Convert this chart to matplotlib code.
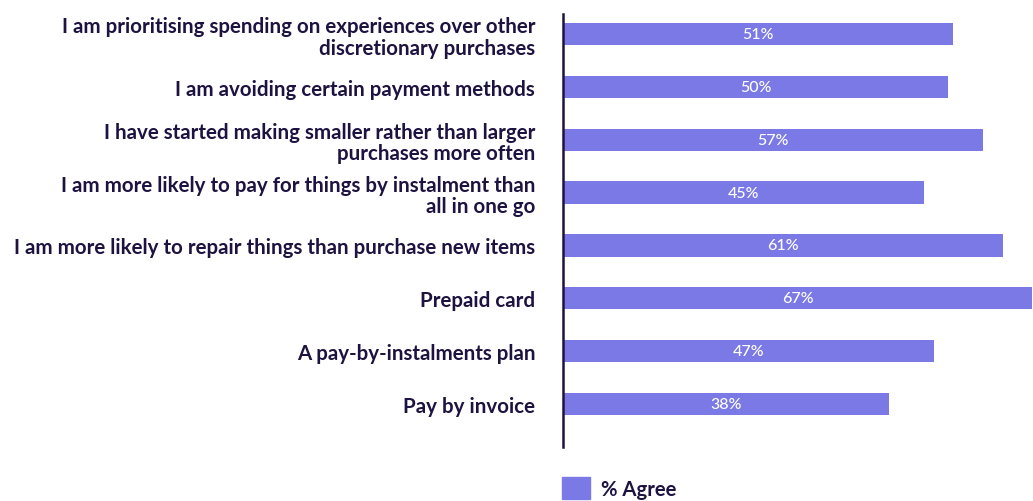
import matplotlib
matplotlib.use("Agg")
import matplotlib.pyplot as plt
from matplotlib.patches import Patch
import numpy as np

categories = [
    "I am prioritising spending on experiences over other\ndiscretionary purchases",
    "I am avoiding certain payment methods",
    "I have started making smaller rather than larger\npurchases more often",
    "I am more likely to pay for things by instalment than\nall in one go",
    "I am more likely to repair things than purchase new items",
    "Prepaid card",
    "A pay-by-instalments plan",
    "Pay by invoice",
]
agree = [51, 50, 57, 45, 61, 67, 47, 38]
series_name = "% Agree"

bar_color = "#7B79E5"
text_color = "#1E1240"
baseline = -28.4

plt.rcParams["font.family"] = ["Lato", "DejaVu Sans"]

fig = plt.figure(figsize=(10.33, 5.02), dpi=100)
ax = fig.add_axes([563 / 1033, 1 - 448 / 502, 1 - 563 / 1033, (448 - 15) / 502])

y = np.arange(len(categories))
vals = np.array(agree, dtype=float)
ax.barh(y, vals - baseline, left=baseline, height=0.42, color=bar_color)

for yi, v in zip(y, vals):
    ax.text((baseline + v) / 2, yi, f"{int(v)}%", ha="center", va="center",
            color="white", fontsize=11.5, fontweight="medium")

ax.set_xlim(baseline, 67.2)
ax.set_ylim(7 + 0.813, -0.378)
ax.set_yticks(y)
ax.set_yticklabels(categories, fontsize=14.8, fontweight="bold", color=text_color,
                   ha="right", linespacing=1.1)
ax.tick_params(axis="y", length=0, pad=20)
ax.set_xticks([])
for side in ["top", "right", "bottom"]:
    ax.spines[side].set_visible(False)
ax.spines["left"].set_color(text_color)
ax.spines["left"].set_linewidth(1.8)

fig.legend(handles=[Patch(color=bar_color, label=series_name)],
           loc="lower left", bbox_to_anchor=(562 / 1033, 0.004),
           frameon=False, borderpad=0, borderaxespad=0,
           handlelength=1.4, handleheight=1.3,
           handletextpad=0.5, prop={"weight": "bold", "size": 14.6},
           labelcolor=text_color)

fig.savefig("out.png", dpi=100)
